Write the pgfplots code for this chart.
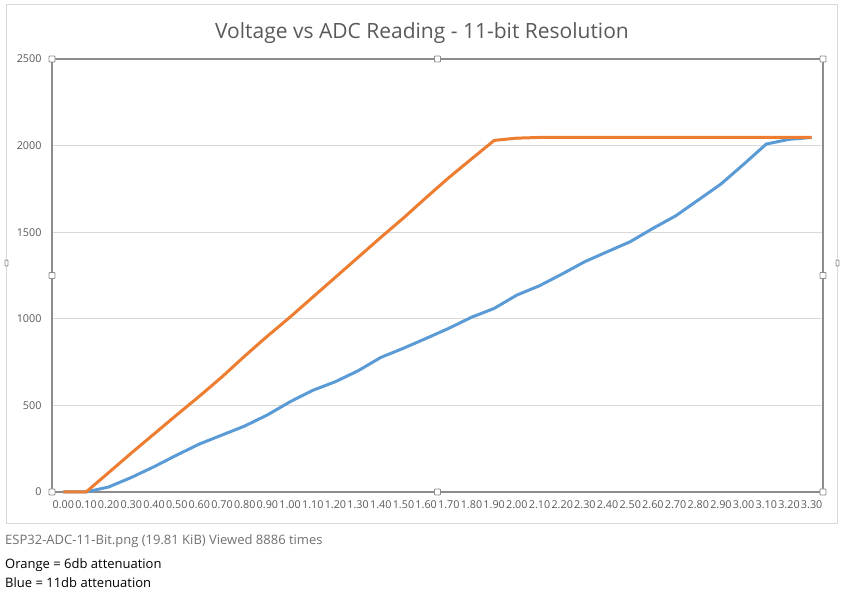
\documentclass[border=0pt]{standalone}
\usepackage{pgfplots}
\pgfplotsset{compat=1.18}
\usepackage{fontspec}
\setmainfont{Open Sans}
\definecolor{xlblue}{HTML}{5B9BD5}
\definecolor{xlorange}{HTML}{ED7D31}
\definecolor{xlgrid}{HTML}{D9D9D9}
\definecolor{xlaxis}{HTML}{8C8C8C}
\definecolor{xltext}{HTML}{595959}
\definecolor{captgray}{HTML}{707070}

\begin{document}
\begin{tikzpicture}[
  handle/.style={draw=xlaxis, fill=white, line width=0.8bp, minimum size=6bp, inner sep=0pt, rounded corners=0.8bp}]
\useasboundingbox (0bp,0bp) rectangle (844bp,593bp);
% chart area border
\draw[xlgrid, line width=1bp] (6.5bp,69.5bp) rectangle (837.5bp,588bp);
\node[handle, minimum width=3bp, minimum height=6bp] at (6.5bp,330bp) {};
\node[handle, minimum width=3bp, minimum height=6bp] at (837.5bp,330bp) {};

\node[text=xltext, font=\fontsize{21bp}{24bp}\selectfont, anchor=base] at (422bp,554bp) {Voltage vs ADC Reading - 11-bit Resolution};

\begin{axis}[
  at={(52bp,101bp)}, anchor=south west,
  scale only axis, width=771bp, height=433bp,
  xmin=-0.5, xmax=33.5, ymin=0, ymax=2500,
  xtick={0,...,33},
  xticklabels={0.00,0.10,0.20,0.30,0.40,0.50,0.60,0.70,0.80,0.90,1.00,1.10,1.20,1.30,1.40,1.50,1.60,1.70,1.80,1.90,2.00,2.10,2.20,2.30,2.40,2.50,2.60,2.70,2.80,2.90,3.00,3.10,3.20,3.30},
  ytick={0,500,...,2500},
  major tick length=0pt,
  axis line style={xlaxis, line width=1.5bp},
  ymajorgrids, grid style={xlgrid, line width=1bp},
  tick label style={text=xltext, font=\fontsize{10.8bp}{13bp}\selectfont},
  /pgf/number format/assume math mode=true,
  /pgf/number format/1000 sep={},
  xticklabel style={yshift=-5bp},
  yticklabel style={xshift=-7bp},
  clip=false,
  every axis plot/.append style={line width=3bp, line join=round, no marks},
]
% 11db attenuation (blue)
\addplot[xlblue] coordinates {
(0,0)(1,0)(2,29)(3,84)(4,146)(5,213)(6,277)(7,329)(8,381)(9,445)(10,521)(11,587)(12,637)(13,700)(14,777)(15,830)(16,887)(17,945)(18,1009)(19,1060)(20,1137)(21,1191)(22,1259)(23,1330)(24,1388)(25,1445)(26,1522)(27,1594)(28,1686)(29,1778)(30,1892)(31,2009)(32,2036)(33,2047)
};
% 6db attenuation (orange)
\addplot[xlorange] coordinates {
(0,0)(1,0)(2,112)(3,225)(4,335)(5,445)(6,553)(7,665)(8,785)(9,900)(10,1010)(11,1125)(12,1240)(13,1355)(14,1470)(15,1582)(16,1700)(17,1815)(18,1923)(19,2030)(20,2043)(21,2047)(22,2047)(23,2047)(24,2047)(25,2047)(26,2047)(27,2047)(28,2047)(29,2047)(30,2047)(31,2047)(32,2047)(33,2047)
};
% selection handles of the plot area
\node[handle] at (rel axis cs:0,0) {};
\node[handle] at (rel axis cs:0.5,0) {};
\node[handle] at (rel axis cs:1,0) {};
\node[handle] at (rel axis cs:0,0.5) {};
\node[handle] at (rel axis cs:1,0.5) {};
\node[handle] at (rel axis cs:0,1) {};
\node[handle] at (rel axis cs:0.5,1) {};
\node[handle] at (rel axis cs:1,1) {};
\end{axis}

\node[anchor=base west, inner sep=0pt, text=captgray, font=\fontsize{13bp}{15bp}\selectfont] at (5bp,48bp) {ESP32-ADC-11-Bit.png (19.81 KiB) Viewed 8886 times};
\node[anchor=base west, inner sep=0pt, font=\fontsize{13bp}{15bp}\selectfont] at (5bp,25bp) {Orange = 6db attenuation};
\node[anchor=base west, inner sep=0pt, font=\fontsize{13bp}{15bp}\selectfont] at (5bp,6bp) {Blue = 11db attenuation};
\end{tikzpicture}
\end{document}
